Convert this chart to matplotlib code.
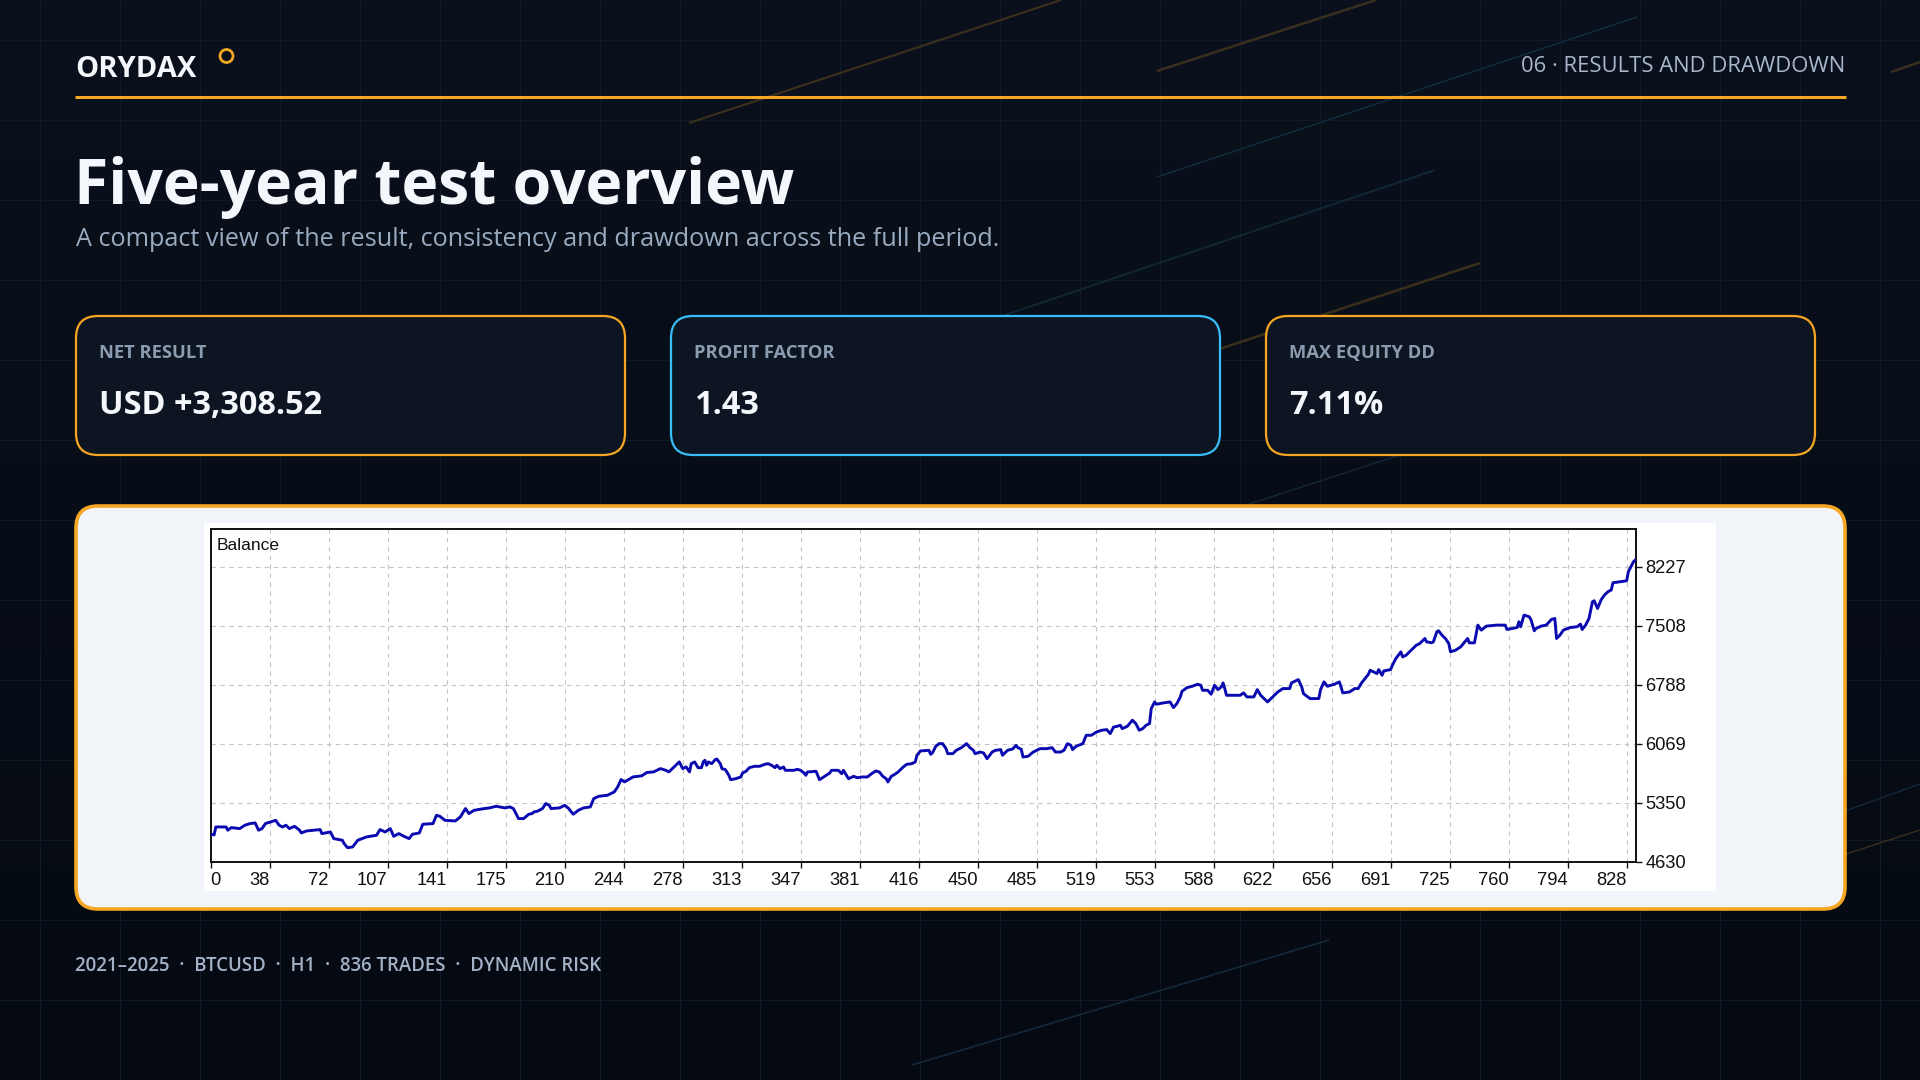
import matplotlib
matplotlib.use("Agg")
import matplotlib.pyplot as plt
import numpy as np
from matplotlib.patches import FancyBboxPatch, Rectangle, Circle
from matplotlib.colors import LinearSegmentedColormap

# ---- data ----
trades = [0, 2, 3, 9, 10, 12, 17, 20, 23, 26, 28, 30, 32, 38, 40, 42, 44, 46, 49, 52,
          53, 56, 64, 65, 70, 72, 77, 78, 80, 83, 86, 91, 97, 99, 102, 105, 107, 110,
          113, 116, 118, 122, 124, 130, 132, 134, 137, 143, 146, 149, 151, 154, 160,
          163, 167, 172, 175, 177, 180, 183, 186, 188, 189, 191, 194, 196, 198, 199,
          204, 207, 209, 212, 215, 218, 222, 224, 227, 232, 236, 238, 240, 242, 247,
          252, 255, 259, 263, 266, 268, 271, 274, 276, 278, 280,
          281, 283, 285, 287, 288, 289, 290, 291, 293, 295, 296, 298, 299, 301, 303,
          304, 307, 310, 311, 313, 315, 318, 321, 324, 326, 328, 330, 331, 333, 335,
          336, 341, 343, 345, 347, 348, 349, 354, 356, 359, 362, 363, 367, 369, 370,
          373, 376, 378, 381, 384, 387, 389, 391, 393, 395, 396, 398, 400, 402, 405,
          407, 410, 412, 413, 415, 420, 421, 422, 424, 426, 428, 430, 431, 434, 436,
          439, 442, 444, 446, 447, 450, 452, 454, 457, 459, 462, 463, 465, 466, 469,
          471, 472, 474, 475, 478, 481, 485, 489, 492, 494, 497,
          499, 501, 503, 504, 506, 510, 512, 515, 518, 521, 524, 526, 528, 530, 532,
          533, 536, 539, 541, 543, 545, 547, 549, 550, 552, 553, 557, 561, 563, 565,
          567, 568, 571, 574, 577, 579, 580, 583, 585, 587, 589, 591, 592, 593, 594,
          602, 604, 606, 610, 612, 614, 616, 618, 620, 622, 624, 627, 631, 632, 636,
          638, 639, 641, 643, 648, 649, 651, 653, 655, 657, 660, 661, 662, 666, 669,
          671, 673, 675, 677, 678, 680, 682, 683, 685, 686, 690, 691, 693, 696, 697,
          699, 701, 703, 705, 707,
          710, 711, 714, 715, 717, 718, 720, 722, 724, 725, 728, 731, 735, 736, 739,
          741, 743, 746, 752, 757, 758, 764, 765, 766, 768, 771, 772, 774, 775, 778,
          781, 784, 786, 787, 789, 791, 795, 799, 801, 802, 804, 806, 808, 809, 811,
          813, 815, 817, 819, 820, 824, 828, 829, 832, 833]

balance = [4970, 4960, 5057, 5057, 5017, 5049, 5037, 5078, 5098, 5106, 5017, 5037, 5098,
           5138, 5078, 5057, 5078, 5037, 5065, 5017, 4984, 5008, 5025, 4976, 4996, 4915,
           4895, 4854, 4805, 4813, 4895, 4935, 4956, 5025, 4996, 5037, 4943, 4976, 4943,
           4915, 4968, 4984, 5090, 5098, 5199, 5187, 5138, 5130, 5179, 5281, 5220, 5260,
           5281, 5289, 5309, 5289, 5301, 5281, 5159, 5159, 5212, 5220, 5240, 5248, 5281,
           5342, 5321, 5281, 5289, 5321, 5289, 5212, 5260, 5289, 5301, 5403, 5431, 5443,
           5484, 5545, 5634, 5606, 5667, 5679, 5720, 5728, 5768, 5748, 5728, 5789, 5850,
           5768, 5789, 5728,
           5828, 5849, 5779, 5779, 5849, 5869, 5808, 5849, 5828, 5877, 5885, 5828, 5767,
           5755, 5686, 5633, 5645, 5666, 5714, 5735, 5779, 5796, 5796, 5820, 5828, 5808,
           5779, 5808, 5767, 5788, 5747, 5747, 5759, 5747, 5714, 5686, 5727, 5735, 5633,
           5674, 5714, 5747, 5747, 5706, 5747, 5645, 5674, 5657, 5666, 5666, 5714, 5739,
           5727, 5674, 5645, 5605, 5674, 5698, 5727, 5788, 5820, 5828, 5849, 5930, 5983,
           5991, 5942, 5958, 6039, 6072, 6072, 6011, 5950, 5950, 5991, 6023, 6072, 6023,
           5991, 5950, 5970, 5958, 5889, 5970, 5991, 5999, 5930, 5970, 5991, 6007, 6052,
           6023, 6003, 5909, 5918, 5970, 6011, 6011, 6023, 5970, 5970,
           5991, 6072, 6052, 5999, 6039, 6072, 6174, 6174, 6214, 6235, 6243, 6194, 6275,
           6283, 6296, 6255, 6283, 6357, 6316, 6235, 6255, 6296, 6316, 6499, 6580, 6552,
           6568, 6580, 6511, 6560, 6641, 6710, 6755, 6771, 6795, 6783, 6722, 6722, 6674,
           6783, 6730, 6763, 6812, 6743, 6661, 6661, 6690, 6641, 6641, 6730, 6661, 6621,
           6580, 6621, 6661, 6702, 6743, 6743, 6812, 6852, 6763, 6682, 6649, 6621, 6621,
           6730, 6824, 6771, 6783, 6795, 6824, 6763, 6690, 6702, 6743, 6743, 6812, 6865,
           6917, 6966, 6946, 6926, 6974, 6905, 6958, 6974, 7027, 7108, 7190, 7129, 7149,
           7190, 7230, 7271, 7291,
           7353, 7313, 7300, 7313, 7435, 7447, 7394, 7353, 7292, 7191, 7211, 7252, 7353,
           7300, 7300, 7516, 7455, 7504, 7516, 7516, 7463, 7487, 7557, 7496, 7638, 7618,
           7585, 7447, 7475, 7504, 7516, 7585, 7597, 7353, 7394, 7455, 7487, 7496, 7528,
           7463, 7516, 7597, 7800, 7813, 7719, 7821, 7882, 7922, 7943, 8032, 8044, 8056,
           8166, 8288, 8308]

x_tick_labels = ["0", "38", "72", "107", "141", "175", "210", "244", "278", "313", "347",
                 "381", "416", "450", "485", "519", "553", "588", "622", "656", "691",
                 "725", "760", "794", "828"]
y_ticks = [4630, 5350, 6069, 6788, 7508, 8227]

card_labels = ["NET RESULT", "PROFIT FACTOR", "MAX EQUITY DD"]
card_values = ["USD +3,308.52", "1.43", "7.11%"]
card_edges = ["#f5a623", "#38bdf8", "#f5a623"]

title = "Five-year test overview"
subtitle = "A compact view of the result, consistency and drawdown across the full period."
footer = "2021\u20132025  \u00b7  BTCUSD  \u00b7  H1  \u00b7  836 TRADES  \u00b7  DYNAMIC RISK"

# ---- canvas ----
W, H = 1920, 1080
UI = ["Open Sans", "DejaVu Sans"]
MT = ["Liberation Sans", "DejaVu Sans"]
ORANGE = "#f5a623"

fig = plt.figure(figsize=(19.2, 10.8), dpi=100)
bg = fig.add_axes([0, 0, 1, 1])
bg.set_xlim(0, W)
bg.set_ylim(H, 0)
bg.axis("off")

grad = np.linspace(0, 1, 256).reshape(-1, 1)
cmap = LinearSegmentedColormap.from_list("bgc", ["#0a111c", "#050a12"])
bg.imshow(grad, cmap=cmap, extent=[0, W, H, 0], aspect="auto", zorder=0)

# faint grid
for gx in range(40, W, 80):
    bg.plot([gx, gx], [0, H], color="#101a27", lw=0.8, zorder=1)
for gy in range(40, H, 80):
    bg.plot([0, W], [gy, gy], color="#101a27", lw=0.8, zorder=1)

# diagonal streaks
streaks = [
    ((689, 123), (1061, 0), "#3a2f1f", 1.6),
    ((1157, 71), (1376, 0), "#3a2f1f", 1.8),
    ((1157, 177), (1637, 17), "#13293a", 1.2),
    ((990, 320), (1435, 170), "#13293a", 1.2),
    ((1180, 362), (1480, 263), "#3a2f1f", 1.8),
    ((1891, 72), (1920, 62), "#3a2f1f", 1.8),
    ((912, 1065), (1329, 940), "#13293a", 1.2),
    ((1200, 520), (1400, 455), "#13293a", 1.0),
    ((1837, 814), (1920, 784), "#13293a", 1.0),
    ((1837, 857), (1920, 830), "#3a2f1f", 1.0),
]
for (x0, y0), (x1, y1), c, lw in streaks:
    bg.plot([x0, x1], [y0, y1], color=c, lw=lw, zorder=1, solid_capstyle="butt")

# header
bg.text(75, 77, "ORYDAX", family=UI, fontsize=21, weight="bold", color="#f3f6fb",
        va="baseline", ha="left", zorder=3)
bg.add_patch(Circle((226.5, 56), 6.5, fill=False, ec=ORANGE, lw=2.0, zorder=3))
bg.text(1845, 72, "06 \u00b7 RESULTS AND DRAWDOWN", family=UI, fontsize=15.8,
        color="#a9b7cb", va="baseline", ha="right", zorder=3)
bg.plot([75, 1846], [97, 97], color=ORANGE, lw=2.2, zorder=3, solid_capstyle="butt")

bg.text(74, 204, title, family=UI, fontsize=45, weight="bold", color="#f3f6fb",
        va="baseline", ha="left", zorder=3)
bg.text(76, 246, subtitle, family=UI, fontsize=18.2, color="#9aabc0",
        va="baseline", ha="left", zorder=3)

# KPI cards
card_x = [76, 671, 1266]
for cx, lab, val, ec in zip(card_x, card_labels, card_values, card_edges):
    bg.add_patch(FancyBboxPatch((cx, 316), 549, 139,
                                boxstyle="round,pad=0,rounding_size=22",
                                fc="#0e1522", ec=ec, lw=1.6, zorder=2))
    bg.text(cx + 23, 358, lab, family=UI, fontsize=13.2, weight="bold",
            color="#8b9bb0", va="baseline", ha="left", zorder=3)
    bg.text(cx + 23, 414, val, family=UI, fontsize=23.4, weight="bold",
            color="#f3f6fb", va="baseline", ha="left", zorder=3)

# chart panel
bg.add_patch(FancyBboxPatch((76, 506), 1769, 403,
                            boxstyle="round,pad=0,rounding_size=22",
                            fc="#f1f5fa", ec=ORANGE, lw=2.6, zorder=2))
bg.add_patch(Rectangle((204, 523), 1512, 368, fc="white", ec="none", zorder=3))

bg.text(75, 971, footer, family=UI, fontsize=13.45, weight="semibold",
        color="#a3b2c6", va="baseline", ha="left", zorder=3)

# balance chart
ax = fig.add_axes([210.7 / W, (H - 862) / H, 1425 / W, 333 / H])
ax.set_facecolor("white")
ax.plot(trades, balance, color="#0a0ab0", lw=2.1, zorder=3)
ax.set_xlim(0, 833.3)
ax.set_ylim(4630, 8687)

ax.set_xticks([34.5 * i for i in range(len(x_tick_labels))])
ax.set_xticklabels(x_tick_labels)
for i, t in enumerate(ax.get_xticklabels()):
    t.set_ha("left" if i == 0 else "right")
ax.yaxis.tick_right()
ax.set_yticks(y_ticks)
ax.set_yticklabels([str(v) for v in y_ticks])

ax.grid(True, color="#c4c4c4", ls=(0, (4, 4)), lw=0.8, zorder=1)
for s in ax.spines.values():
    s.set_color("#111111")
    s.set_linewidth(1.4)
ax.tick_params(axis="both", direction="out", length=4, width=1, color="#111111",
               labelsize=13.2, labelcolor="#111111", pad=3)
for t in ax.get_xticklabels() + ax.get_yticklabels():
    t.set_family(MT)
ax.text(0.0045, 0.972, "Balance", transform=ax.transAxes, ha="left", va="top",
        family=MT, fontsize=12.5, color="#111111")

fig.savefig("out.png", dpi=100)
